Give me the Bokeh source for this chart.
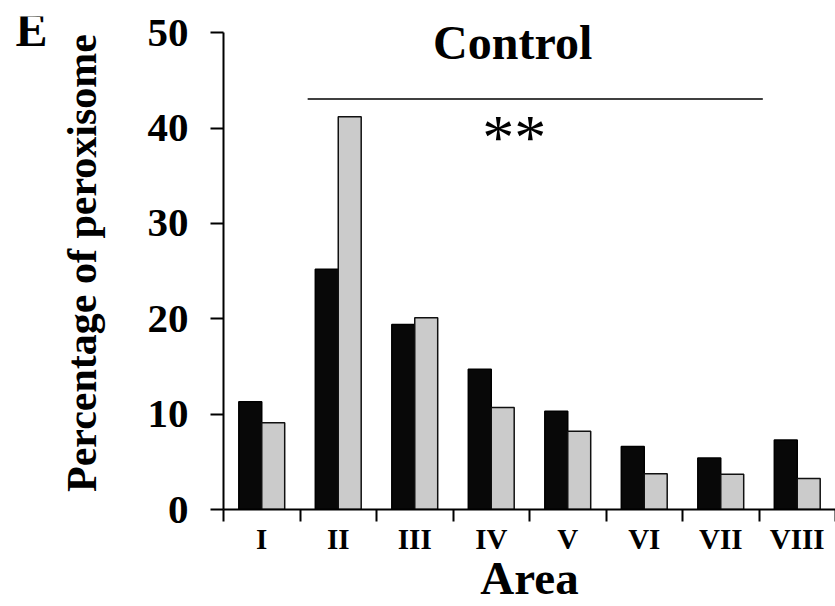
from bokeh.plotting import figure
from bokeh.models import Range1d, FixedTicker, Label
from bokeh.layouts import row
from bokeh.core.properties import value
from bokeh.embed import file_html
from bokeh.resources import INLINE

# Data
areas = ["I", "II", "III", "IV", "V", "VI", "VII", "VIII"]
series_black = [11.3, 25.2, 19.4, 14.7, 10.3, 6.6, 5.4, 7.3]
series_gray = [9.1, 41.2, 20.1, 10.7, 8.2, 3.75, 3.7, 3.25]
y_ticks = [0, 10, 20, 30, 40, 50]

FONT = "Liberation Serif"
n = len(areas)
centers = [i + 0.5 for i in range(n)]
bar_w = 0.3
W, H = 835, 606
LEFT_W = 55

# panel letter (separate small figure to the left)
pe = figure(width=LEFT_W, height=H, output_backend="svg", toolbar_location=None,
            x_range=Range1d(0, LEFT_W), y_range=Range1d(0, H),
            min_border=0, outline_line_color=None)
pe.axis.visible = False
pe.grid.visible = False
pe.text(x=[15], y=[H - 16], text=["E"], text_font=value(FONT), text_font_style="bold",
        text_font_size="48px", text_align="left", text_baseline="alphabetic",
        text_color="black")

p = figure(width=W - LEFT_W, height=H, output_backend="svg", toolbar_location=None,
           x_range=Range1d(0, 8.0), y_range=Range1d(0, 51.7),
           min_border_left=223 - LEFT_W, min_border_right=0, min_border_top=16,
           min_border_bottom=90)
p.grid.visible = False
p.outline_line_color = None
p.background_fill_color = "white"

p.vbar(x=[c - bar_w / 2 for c in centers], top=series_black, width=bar_w, bottom=0,
       fill_color="#080808", line_color="black", line_width=1.5)
p.vbar(x=[c + bar_w / 2 for c in centers], top=series_gray, width=bar_w, bottom=0,
       fill_color="#cbcbcb", line_color="#111111", line_width=1.5)

# significance bracket
p.segment(x0=[1.1], y0=[43.05], x1=[7.05], y1=[43.05], line_color="black", line_width=1.5)

# Axes
xa = p.xaxis[0]
xa.ticker = FixedTicker(ticks=centers, minor_ticks=list(range(n + 1)))
xa.major_label_overrides = {c: a for c, a in zip(centers, areas)}
xa.major_tick_out = 0
xa.major_tick_in = 0
xa.minor_tick_out = 12
xa.minor_tick_in = 0
xa.minor_tick_line_width = 2
xa.axis_line_width = 2
xa.major_label_standoff = 1
xa.major_label_text_font = FONT
xa.major_label_text_font_style = "bold"
xa.major_label_text_font_size = "29px"
xa.major_label_text_color = "black"
xa.axis_label = "Area"
xa.axis_label_text_font = FONT
xa.axis_label_text_font_style = "bold"
xa.axis_label_text_font_size = "47px"
xa.axis_label_text_color = "black"
xa.axis_label_standoff = -6

ya = p.yaxis[0]
ya.ticker = FixedTicker(ticks=y_ticks, minor_ticks=[])
ya.bounds = (0, 50)
ya.major_tick_out = 13
ya.major_tick_in = 0
ya.major_tick_line_width = 2
ya.axis_line_width = 2
ya.major_label_standoff = 22
ya.major_label_text_font = FONT
ya.major_label_text_font_style = "bold"
ya.major_label_text_font_size = "41px"
ya.major_label_text_color = "black"
ya.axis_label = "Percentage of peroxisome"
ya.axis_label_text_font = FONT
ya.axis_label_text_font_style = "bold"
ya.axis_label_text_font_size = "42px"
ya.axis_label_text_color = "black"
ya.axis_label_standoff = 40

p.add_layout(Label(x=3.78, y=48.95, text="Control", text_font=FONT, text_font_style="bold",
                   text_font_size="48px", text_align="center", text_baseline="middle",
                   text_color="black"))
p.add_layout(Label(x=3.8, y=39.0, text="**", text_font=FONT,
                   text_font_size="64px", text_align="center", text_baseline="middle",
                   text_color="black"))

layout = row(pe, p, spacing=0)
open("out.html", "w").write(file_html(layout, INLINE))
